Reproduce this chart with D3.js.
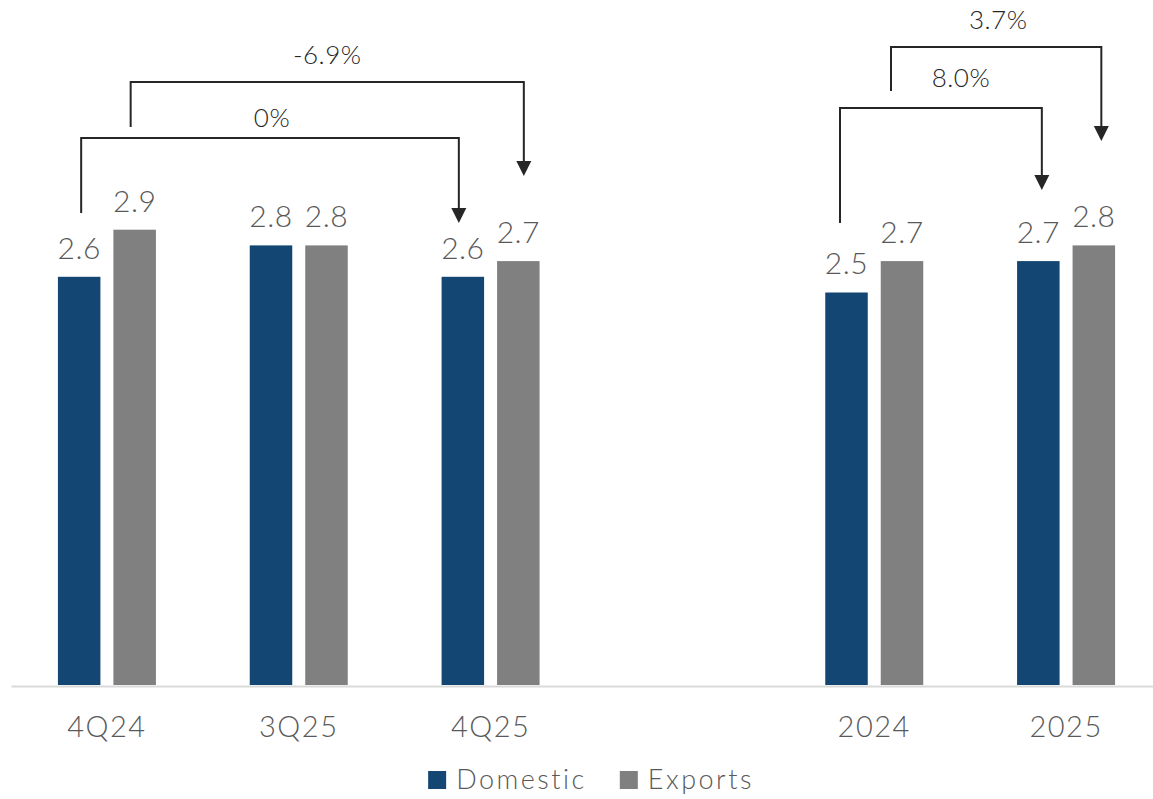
<!DOCTYPE html>
<html>
<head>
<meta charset="utf-8">
<script src="https://cdn.jsdelivr.net/npm/d3@7"></script>
<style>
  body { margin: 0; background: #fff; }
  svg { display: block; }
  text { font-family: Lato, "Open Sans", sans-serif; font-weight: 300; }
</style>
</head>
<body>
<svg id="chart" width="1153" height="799"></svg>
<script>
// ---- data ----
const categories = ["4Q24", "3Q25", "4Q25", "", "2024", "2025"];
const seriesNames = ["Domestic", "Exports"];
const domesticValues = [2.6, 2.8, 2.6, null, 2.5, 2.7];
const exportsValues = [2.9, 2.8, 2.7, null, 2.7, 2.8];

// period-over-period change callouts
const changeFrom = ["4Q24", "4Q24", "2024", "2024"];
const changeTo = ["4Q25", "4Q25", "2025", "2025"];
const changeSeries = ["Domestic", "Exports", "Domestic", "Exports"];
const changeLabels = ["0%", "-6.9%", "8.0%", "3.7%"];

// ---- layout ----
const W = 1153, H = 799;
const baseY = 685;
const colors = { Domestic: "#134673", Exports: "#808080" };
const textGray = "#595959";
const ink = "#262626";

// bracket geometry (pixels): vertical levels and small horizontal nudges
const bracketLayout = [
  { startY: 213, barY: 138, tipY: 223, labelY: 127, dxFrom: 2,   dxTo: -4,  labelDx: 2 },
  { startY: 127, barY: 82,  tipY: 176, labelY: 64,  dxFrom: -4,  dxTo: 5.5, labelDx: 0 },
  { startY: 223, barY: 108, tipY: 190, labelY: 87,  dxFrom: -6.5,dxTo: 3.5, labelDx: 20 },
  { startY: 91,  barY: 47,  tipY: 141, labelY: 29,  dxFrom: -11, dxTo: 7.5, labelDx: 2 }
];

const svg = d3.select("#chart");

const x0 = d3.scaleBand().domain(categories).range([11, 1162]).paddingInner(0).paddingOuter(0);
const groupW = 98;
const x1 = d3.scaleBand().domain(seriesNames).range([0, groupW]).paddingInner(0.234).paddingOuter(0);
const y = d3.scaleLinear().domain([0, 4.363]).range([baseY, 0]);

const valuesBySeries = { Domestic: domesticValues, Exports: exportsValues };
const rows = [];
categories.forEach((c, i) => {
  seriesNames.forEach(s => {
    const v = valuesBySeries[s][i];
    if (v != null) rows.push({ cat: c, series: s, value: v });
  });
});

const barX = d => x0(d.cat) + (x0.bandwidth() - groupW) / 2 + x1(d.series);
const barCenter = (cat, s) => x0(cat) + (x0.bandwidth() - groupW) / 2 + x1(s) + x1.bandwidth() / 2;

// bars
svg.append("g").selectAll("rect").data(rows).join("rect")
  .attr("x", barX)
  .attr("y", d => y(d.value))
  .attr("width", x1.bandwidth())
  .attr("height", d => baseY - y(d.value))
  .attr("fill", d => colors[d.series]);

// value labels
svg.append("g").selectAll("text").data(rows).join("text")
  .attr("x", d => barX(d) + x1.bandwidth() / 2)
  .attr("y", d => y(d.value) - 18)
  .attr("text-anchor", "middle")
  .attr("font-size", 30)
  .attr("letter-spacing", 0.5)
  .attr("fill", textGray)
  .text(d => d3.format(".1f")(d.value));

// category axis
const axis = svg.append("g")
  .attr("transform", `translate(0,${baseY})`)
  .call(d3.axisBottom(x0).tickSize(0).tickPadding(0));
axis.select(".domain").attr("stroke", "#d9d9d9").attr("stroke-width", 2).attr("transform", "translate(0,1)");
axis.selectAll(".tick text")
  .attr("dy", null)
  .attr("y", 52)
  .attr("font-size", 29)
  .attr("letter-spacing", 1.5)
  .attr("font-family", "Lato, 'Open Sans', sans-serif")
  .attr("fill", textGray);

// change brackets with arrows
const bracketG = svg.append("g");
changeLabels.forEach((lab, i) => {
  const L = bracketLayout[i];
  const xa = barCenter(changeFrom[i], changeSeries[i]) + L.dxFrom;
  const xb = barCenter(changeTo[i], changeSeries[i]) + L.dxTo;
  const head = 15, half = 7.5;
  bracketG.append("path")
    .attr("d", d3.line()([[xa, L.startY], [xa, L.barY], [xb, L.barY], [xb, L.tipY - head + 1]]))
    .attr("fill", "none")
    .attr("stroke", ink)
    .attr("stroke-width", 2);
  bracketG.append("path")
    .attr("d", `M${xb - half},${L.tipY - head}L${xb + half},${L.tipY - head}L${xb},${L.tipY}Z`)
    .attr("fill", ink);
  bracketG.append("text")
    .attr("x", (xa + xb) / 2 + L.labelDx)
    .attr("y", L.labelY)
    .attr("text-anchor", "middle")
    .attr("font-size", 26)
    .attr("letter-spacing", 0.5)
    .attr("fill", ink)
    .text(lab);
});

// legend
const legend = svg.append("g");
const legendItems = legend.selectAll("g").data(seriesNames).join("g");
legendItems.append("rect").attr("width", 18).attr("height", 18).attr("y", 771)
  .attr("fill", d => colors[d]);
legendItems.append("text").attr("x", 28).attr("y", 789)
  .attr("font-size", 27).attr("letter-spacing", 2.5).attr("fill", textGray).text(d => d);
let cursor = 0;
const offsets = [];
legendItems.each(function () {
  offsets.push(cursor);
  const tw = d3.select(this).select("text").node().getComputedTextLength();
  cursor += 28 + tw + 33;
});
const totalW = cursor - 33;
const legendLeft = 591 - totalW / 2;
legendItems.attr("transform", (d, i) => `translate(${legendLeft + offsets[i]},0)`);
</script>
</body>
</html>
